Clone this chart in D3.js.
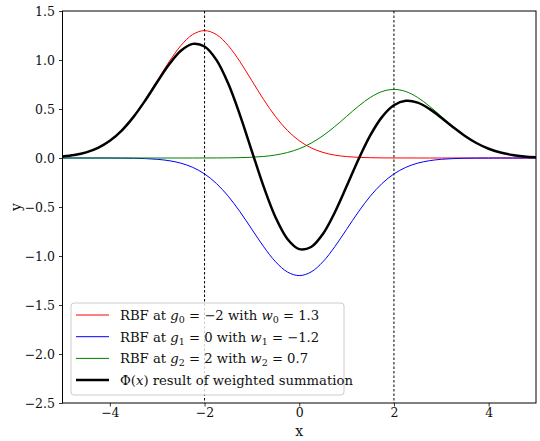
<!DOCTYPE html>
<html><head><meta charset="utf-8">
<script src="https://cdn.jsdelivr.net/npm/d3@7"></script>
<style>body{margin:0;background:#fff}svg text{font-family:"DejaVu Serif",serif;fill:#111}</style>
</head><body><svg id="c" width="540" height="441"></svg>
<script>
const xs = [-5,-4.75,-4.5,-4.25,-4,-3.75,-3.5,-3.25,-3,-2.75,-2.5,-2.25,-2,-1.75,-1.5,-1.25,-1,-0.75,-0.5,-0.25,0,0.25,0.5,0.75,1,1.25,1.5,1.75,2,2.25,2.5,2.75,3,3.25,3.5,3.75,4,4.25,4.5,4.75,5];
const red = [0.0144,0.0296,0.0571,0.1035,0.1759,0.2812,0.4221,0.5951,0.7885,0.9812,1.1473,1.2600,1.3,1.2600,1.1473,0.9812,0.7885,0.5951,0.4221,0.2812,0.1759,0.1035,0.0571,0.0296,0.0144,0.0066,0.0029,0.0012,0.0004,0.0002,0.0001,0,0,0,0,0,0,0,0,0,0];
const blue = [0,0,-0.00005,-0.00014,-0.0004,-0.0011,-0.0026,-0.0061,-0.0133,-0.0274,-0.0527,-0.0955,-0.1624,-0.2596,-0.3896,-0.5494,-0.7278,-0.9058,-1.0590,-1.1630,-1.2,-1.1630,-1.0590,-0.9058,-0.7278,-0.5494,-0.3896,-0.2596,-0.1624,-0.0955,-0.0527,-0.0274,-0.0133,-0.0061,-0.0026,-0.0011,-0.0004,-0.00014,-0.00005,0,0];
const green = [0,0,0,0,0,0,0,0,0,0,0,0.0001,0.0002,0.0006,0.0015,0.0036,0.0078,0.0160,0.0307,0.0557,0.0947,0.1514,0.2273,0.3205,0.4246,0.5284,0.6178,0.6784,0.7,0.6784,0.6178,0.5284,0.4246,0.3205,0.2273,0.1514,0.0947,0.0557,0.0307,0.0160,0.0078];
const phi = [0.0144,0.0296,0.0570,0.1034,0.1755,0.2801,0.4195,0.5890,0.7752,0.9538,1.0946,1.1646,1.1378,1.0010,0.7592,0.4354,0.0685,-0.2947,-0.6062,-0.8261,-0.9294,-0.9081,-0.7746,-0.5557,-0.2888,-0.0144,0.2311,0.4200,0.5380,0.5831,0.5651,0.5010,0.4113,0.3144,0.2247,0.1503,0.0943,0.0556,0.0307,0.0160,0.0078];
const centers = [-2, 2];
const xTicks = [-4,-2,0,2,4];
const yTicks = [-2.5,-2.0,-1.5,-1.0,-0.5,0.0,0.5,1.0,1.5];

const FONT = '"DejaVu Serif", serif';
const svg = d3.select("#c");
const L=62.5, R=536, T=11, B=403;
const x = d3.scaleLinear().domain([-5,5]).range([L,R]);
const y = d3.scaleLinear().domain([-2.5,1.5]).range([B,T]);
const fmt = v => (v<0?"\u2212":"") + Math.abs(v).toFixed(1);

svg.selectAll("line.c").data(centers).enter().append("line")
  .attr("x1",d=>x(d)).attr("x2",d=>x(d)).attr("y1",T).attr("y2",B)
  .attr("stroke","#000").attr("stroke-width",1).attr("stroke-dasharray","2.5,2");

const line = d3.line().x((d,i)=>x(xs[i])).y(d=>y(d)).curve(d3.curveCatmullRom);
const series = [
  {v:red, c:"#ff0000", w:1},
  {v:blue, c:"#0000ff", w:1},
  {v:green, c:"#008000", w:1},
  {v:phi, c:"#000", w:2.5}
];
svg.append("g").selectAll("path").data(series).enter().append("path")
  .attr("d",d=>line(d.v)).attr("fill","none").attr("stroke",d=>d.c).attr("stroke-width",d=>d.w);

const gx = svg.append("g").attr("transform",`translate(0,${B})`)
  .call(d3.axisBottom(x).tickValues(xTicks).tickSize(3.5).tickPadding(2).tickFormat(v=>(v<0?"\u2212":"")+Math.abs(v)));
const gy = svg.append("g").attr("transform",`translate(${L},0)`)
  .call(d3.axisLeft(y).tickValues(yTicks).tickSize(3.5).tickPadding(4).tickFormat(fmt));
[gx,gy].forEach(g=>{g.attr("font-family",null);g.select(".domain").remove();
  g.selectAll("text").style("font-family",FONT).style("font-size","12.5px").attr("fill","#222");
  g.selectAll("line").attr("stroke","#000").attr("stroke-width",0.8);});

svg.append("rect").attr("x",L).attr("y",T).attr("width",R-L).attr("height",B-T)
  .attr("fill","none").attr("stroke","#000").attr("stroke-width",1);

svg.append("text").attr("x",x(0)).attr("y",436).attr("text-anchor","middle").style("font-size","14px").text("x");
svg.append("text").attr("transform",`translate(21,${y(-0.5)}) rotate(-90)`).attr("text-anchor","middle").style("font-size","14px").text("y");

const lg = svg.append("g");
lg.append("rect").attr("x",71).attr("y",303).attr("width",273).attr("height",92).attr("rx",3)
  .attr("fill","#fff").attr("fill-opacity",0.8).attr("stroke","#cccccc").attr("stroke-width",1);
const labels = [
  [["RBF at ",""],["g","i"],["0","s"],[" = \u22122 with ",""],["w","i"],["0","s"],[" = 1.3",""]],
  [["RBF at ",""],["g","i"],["1","s"],[" = 0 with ",""],["w","i"],["1","s"],[" = \u22121.2",""]],
  [["RBF at ",""],["g","i"],["2","s"],[" = 2 with ",""],["w","i"],["2","s"],[" = 0.7",""]],
  [["\u03A6(",""],["x","i"],[") result of weighted summation",""]]
];
series.forEach((s,i)=>{
  const yy = 315 + i*21.7;
  lg.append("line").attr("x1",76).attr("x2",109).attr("y1",yy).attr("y2",yy).attr("stroke",s.c).attr("stroke-width",s.w);
  const t = lg.append("text").attr("x",120).attr("y",yy+5).style("font-size","13.2px");
  labels[i].forEach(([str,k],j)=>{
    const ts = t.append("tspan").text(str);
    if(k==="i") ts.style("font-style","italic");
    if(k==="s") ts.style("font-size","9.5px").attr("dy",3);
    const prev = labels[i][j-1];
    if(prev && prev[1]==="s") ts.attr("dy",-3);
  });
});
</script></body></html>
